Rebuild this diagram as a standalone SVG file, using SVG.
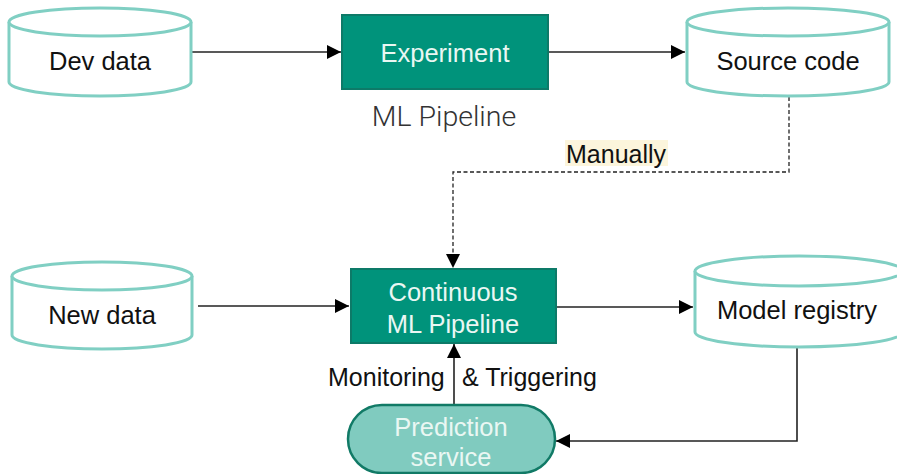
<svg xmlns="http://www.w3.org/2000/svg" width="897" height="474" viewBox="0 0 897 474">
  <defs>
    <marker id="arrow" viewBox="0 0 10 10" refX="10" refY="5" markerWidth="14" markerHeight="14" markerUnits="userSpaceOnUse" orient="auto">
      <path d="M0,0 L10,5 L0,10 z" fill="#000"/>
    </marker>
    <style>
      .cyl { fill: #fff; stroke: #80cfc3; stroke-width: 3; }
      .box { fill: #00937b; stroke: #0d7a68; stroke-width: 2; }
      .pill { fill: #80cbbf; stroke: #117a66; stroke-width: 2.5; }
      .lbl { font-family: "Liberation Sans", Arial, sans-serif; font-size: 25.5px; fill: #111; text-anchor: middle; }
      .wlbl { font-family: "Liberation Sans", Arial, sans-serif; font-size: 25.5px; fill: #eaf7f3; text-anchor: middle; }
      .note { font-family: "Liberation Sans", Arial, sans-serif; font-size: 25px; fill: #111; }
      .conn { fill: none; stroke: #222; stroke-width: 1.6; }
      .dash { stroke-dasharray: 4 2.5; stroke-width: 1.3; }
    </style>
  </defs>

  <!-- connectors -->
  <g id="connectors">
    <line class="conn" x1="192" y1="52" x2="341" y2="52" marker-end="url(#arrow)"/>
    <line class="conn" x1="548" y1="52" x2="685" y2="52" marker-end="url(#arrow)"/>
    <polyline class="conn dash" points="789,97 789,172 453,172 453,268" marker-end="url(#arrow)"/>
    <line class="conn" x1="198" y1="306" x2="349" y2="306" marker-end="url(#arrow)"/>
    <line class="conn" x1="556" y1="307" x2="693" y2="307" marker-end="url(#arrow)"/>
    <polyline class="conn" points="797,347 797,441 556,441" marker-end="url(#arrow)"/>
    <line class="conn" x1="454" y1="405" x2="454" y2="344" marker-end="url(#arrow)"/>
    <rect x="565" y="140" width="103" height="26" fill="#fcf5dc"/>
    <text class="note" x="566" y="163">Manually</text>
    <text class="note" x="328" y="386">Monitoring</text>
    <text class="note" x="462" y="386">&amp; Triggering</text>
  </g>

  <g id="dev-data">
    <path class="cyl" d="M9,22 A91,14 0 0 1 191,22 V82 A91,14 0 0 1 9,82 Z"/>
    <path class="cyl" d="M9,22 A91,14 0 0 0 191,22" fill="none"/>
    <text class="lbl" x="100" y="70">Dev data</text>
  </g>

  <g id="experiment">
    <rect class="box" x="342" y="15" width="206" height="74"/>
    <text class="wlbl" x="445" y="62">Experiment</text>
  </g>

  <g id="ml-pipeline-label">
    <text x="444" y="126" font-family="Roboto, 'Liberation Sans', sans-serif" font-weight="300" font-size="28.5" fill="#333" text-anchor="middle">ML Pipeline</text>
  </g>

  <g id="source-code">
    <path class="cyl" d="M687,22 A101,14 0 0 1 889,22 V82 A101,14 0 0 1 687,82 Z"/>
    <path class="cyl" d="M687,22 A101,14 0 0 0 889,22" fill="none"/>
    <text class="lbl" x="788" y="70">Source code</text>
  </g>

  <g id="new-data">
    <path class="cyl" d="M12,276 A90,14 0 0 1 192,276 V335 A90,14 0 0 1 12,335 Z"/>
    <path class="cyl" d="M12,276 A90,14 0 0 0 192,276" fill="none"/>
    <text class="lbl" x="102" y="324">New data</text>
  </g>

  <g id="continuous-pipeline">
    <rect class="box" x="351" y="269" width="205" height="74"/>
    <text class="wlbl" x="453" y="301">Continuous</text>
    <text class="wlbl" x="453" y="333">ML Pipeline</text>
  </g>

  <g id="model-registry">
    <path class="cyl" d="M695,271 A104,15 0 0 1 903,271 V332 A104,15 0 0 1 695,332 Z"/>
    <path class="cyl" d="M695,271 A104,15 0 0 0 903,271" fill="none"/>
    <text class="lbl" x="797" y="319">Model registry</text>
  </g>

  <g id="prediction-service">
    <rect class="pill" x="348" y="405" width="207" height="68" rx="34" ry="34"/>
    <text class="wlbl" x="451" y="436">Prediction</text>
    <text class="wlbl" x="451" y="466">service</text>
  </g>
</svg>
